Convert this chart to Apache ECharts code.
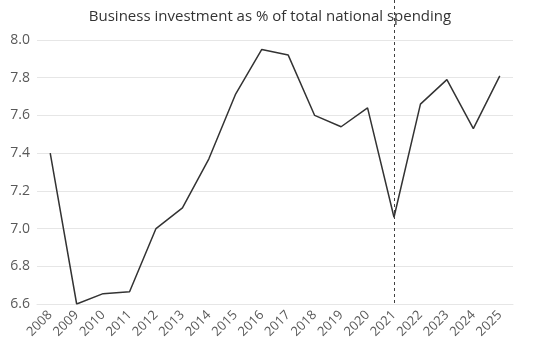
<!DOCTYPE html>
<html>
<head>
<meta charset="utf-8">
<script src="https://cdn.jsdelivr.net/npm/echarts@6/dist/echarts.min.js"></script>
<style>
html,body{margin:0;padding:0;background:#fff;}
#main{width:540px;height:353px;}
</style>
</head>
<body>
<div id="main"></div>
<script>
// years and values
var years = ['2008','2009','2010','2011','2012','2013','2014','2015','2016','2017','2018','2019','2020','2021','2022','2023','2024','2025'];
var investShare = [7.40, 6.60, 6.655, 6.665, 7.00, 7.11, 7.37, 7.71, 7.95, 7.92, 7.60, 7.54, 7.64, 7.06, 7.66, 7.79, 7.53, 7.81];
var markYear = '2021';

var myChart = echarts.init(document.getElementById('main'));

var options = {
	animation: false,
	title: {
		text: 'Business investment as % of total national spending',
		left: 'center',
		top: 4,
		textStyle: {
			fontFamily: 'Open Sans',
			fontSize: 15,
			fontWeight: 'normal',
			color: '#333'
		}
	},
	grid: {
		left: 37,
		right: 27,
		top: 40,
		bottom: 49
	},
	xAxis: {
		type: 'category',
		boundaryGap: true,
		data: years,
		axisLine: { lineStyle: { color: '#e6e6e6' } },
		axisTick: { show: false },
		axisLabel: {
			interval: 0,
			rotate: 45,
			margin: 9,
			fontFamily: 'Open Sans',
			fontSize: 13,
			color: '#595959'
		}
	},
	yAxis: {
		type: 'value',
		min: 6.6,
		max: 8.0,
		interval: 0.2,
		axisLine: { show: false },
		axisTick: { show: false },
		splitLine: { lineStyle: { color: '#e6e6e6' } },
		axisLabel: {
			margin: 7,
			fontFamily: 'Open Sans',
			fontSize: 14,
			color: '#595959',
			formatter: function (v) { return v.toFixed(1); }
		}
	},
	series: [{
		type: 'line',
		data: investShare,
		symbol: 'none',
		lineStyle: { color: '#333', width: 1.5 },
		markLine: {
			silent: true,
			symbol: 'none',
			label: { show: false },
			lineStyle: { color: '#404040', type: [3, 3], width: 1 },
			data: [[
				{ coord: [markYear, 8.0], y: 0 },
				{ coord: [markYear, 6.6] }
			]]
		}
	}]
};
myChart.setOption(options);
</script>
</body>
</html>
